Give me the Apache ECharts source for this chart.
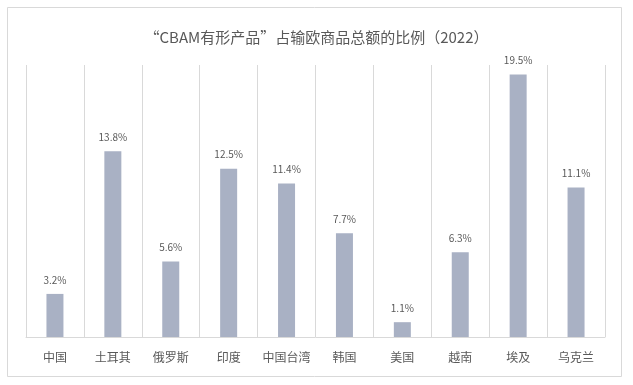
<!DOCTYPE html>
<html>
<head>
<meta charset="utf-8">
<script src="https://cdn.jsdelivr.net/npm/echarts@6/dist/echarts.min.js"></script>
<style>
html,body{margin:0;padding:0;background:#fff;}
#c{width:633px;height:385px;}
</style>
</head>
<body>
<div id="c"></div>
<script>
var titleText = '“CBAM有形产品”占输欧商品总额的比例（2022）';
var categories = ['中国','土耳其','俄罗斯','印度','中国台湾','韩国','美国','越南','埃及','乌克兰'];
var values = [3.2, 13.8, 5.6, 12.5, 11.4, 7.7, 1.1, 6.3, 19.5, 11.1];

var chart = echarts.init(document.getElementById('c'), null, {renderer:'canvas'});
var font = '"Noto Sans CJK SC", "Microsoft YaHei", sans-serif';
chart.setOption({
  backgroundColor: '#ffffff',
  animation: false,
  title: {
    text: titleText,
    left: 'center',
    top: 25,
    textStyle: {fontFamily: font, fontSize: 15, fontWeight: 'normal', color: '#595959'}
  },
  graphic: [{
    type: 'rect',
    shape: {x: 7.5, y: 7.5, width: 614, height: 369},
    style: {fill: 'none', stroke: '#d9d9d9', lineWidth: 1},
    silent: true
  }],
  grid: {left: 26, right: 28, top: 65, bottom: 48, containLabel: false},
  xAxis: {
    type: 'category',
    data: categories,
    boundaryGap: true,
    axisLine: {show: true, lineStyle: {color: '#d9d9d9'}},
    axisTick: {show: false},
    splitLine: {show: true, interval: 0, lineStyle: {color: '#d9d9d9', width: 1}},
    axisLabel: {interval: 0, margin: 14, fontFamily: font, fontSize: 12, color: '#595959'}
  },
  yAxis: {
    type: 'value',
    min: 0,
    max: 20.2,
    show: false,
    splitLine: {show: false}
  },
  series: [{
    type: 'bar',
    data: values,
    barWidth: 17,
    itemStyle: {color: '#a9b1c4'},
    label: {
      show: true,
      position: 'top',
      distance: 9,
      formatter: function(p){ return p.value.toFixed(1) + '%'; },
      fontFamily: font,
      fontSize: 10,
      color: '#595959'
    }
  }]
});
</script>
</body>
</html>
